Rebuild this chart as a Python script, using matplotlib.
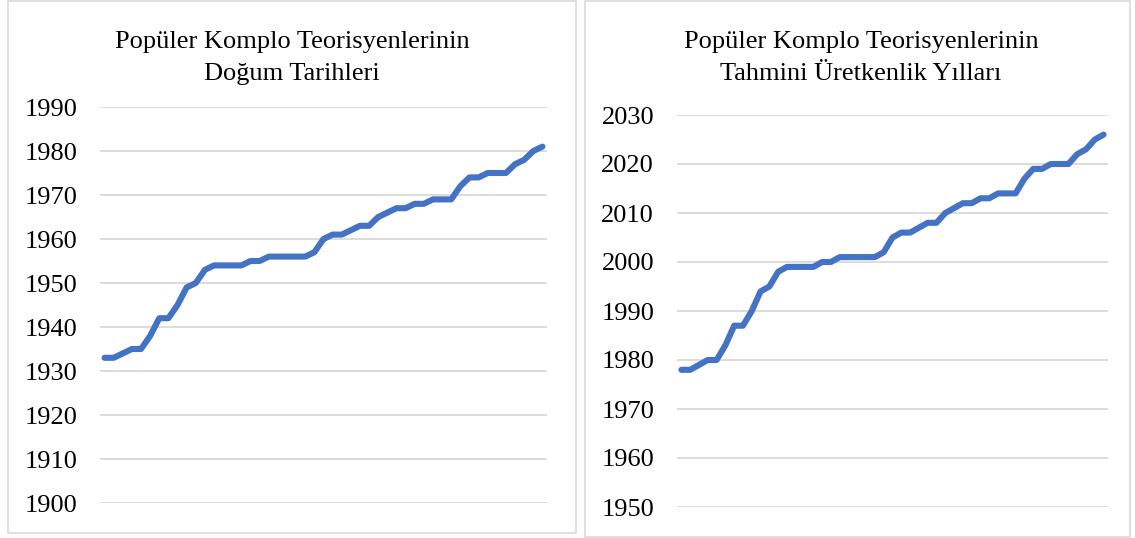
import matplotlib
matplotlib.use('Agg')
import matplotlib.pyplot as plt
from matplotlib.patches import Rectangle

plt.rcParams['font.family'] = ['Liberation Serif', 'DejaVu Serif']

# data
birth_years = [1933, 1933, 1934, 1935, 1935, 1938, 1942, 1942, 1945, 1949,
               1950, 1953, 1954, 1954, 1954, 1954, 1955, 1955, 1956, 1956,
               1956, 1956, 1956, 1957, 1960, 1961, 1961, 1962, 1963, 1963,
               1965, 1966, 1967, 1967, 1968, 1968, 1969, 1969, 1969, 1972,
               1974, 1974, 1975, 1975, 1975, 1977, 1978, 1980, 1981]
productive_years = [1978, 1978, 1979, 1980, 1980, 1983, 1987, 1987, 1990, 1994,
                    1995, 1998, 1999, 1999, 1999, 1999, 2000, 2000, 2001, 2001,
                    2001, 2001, 2001, 2002, 2005, 2006, 2006, 2007, 2008, 2008,
                    2010, 2011, 2012, 2012, 2013, 2013, 2014, 2014, 2014, 2017,
                    2019, 2019, 2020, 2020, 2020, 2022, 2023, 2025, 2026]
left_ticks = list(range(1900, 1991, 10))
right_ticks = list(range(1950, 2031, 10))
left_title = "Popüler Komplo Teorisyenlerinin\nDoğum Tarihleri"
right_title = "Popüler Komplo Teorisyenlerinin\nTahmini Üretkenlik Yılları"

W, H = 1135, 538
fig = plt.figure(figsize=(W / 100, H / 100), dpi=100)

def px_axes(x0, y_top, x1, y_bot):
    return fig.add_axes([x0 / W, (H - y_bot) / H, (x1 - x0) / W, (y_bot - y_top) / H])

def panel(x0, y0, x1, y1):
    fig.patches.append(Rectangle((x0 / W, (H - y1) / H), (x1 - x0) / W, (y1 - y0) / H,
                                 transform=fig.transFigure, fill=False,
                                 edgecolor='#d9d9d9', lw=1.2))

def draw(ax, vals, ticks, title, cx):
    ax.plot(range(len(vals)), vals, color='#4472c4', lw=4.4, solid_capstyle='round',
            solid_joinstyle='round', zorder=3)
    ax.set_xlim(-0.5, len(vals) - 0.5)
    ax.set_ylim(ticks[0], ticks[-1])
    ax.set_yticks(ticks)
    ax.set_yticklabels([str(t) for t in ticks], fontsize=19, color='#000000')
    ax.set_xticks([])
    ax.tick_params(axis='y', length=0, pad=16.5)
    ax.grid(axis='y', color='#d9d9d9', lw=1.3)
    ax.set_axisbelow(True)
    for s in ax.spines.values():
        s.set_visible(False)
    ax.patch.set_alpha(0)
    fig.text(cx / W, (H - 58) / H, title, ha='center', va='center', fontsize=19,
             color='#000000', linespacing=1.62)

panel(8, 1, 576, 533)
panel(585, 1, 1130, 537)

ax1 = px_axes(100, 107, 547, 503)
draw(ax1, birth_years, left_ticks, left_title, 292)

ax2 = px_axes(677, 115, 1108, 507)
draw(ax2, productive_years, right_ticks, right_title, 861)

fig.savefig('out.png', dpi=100)
